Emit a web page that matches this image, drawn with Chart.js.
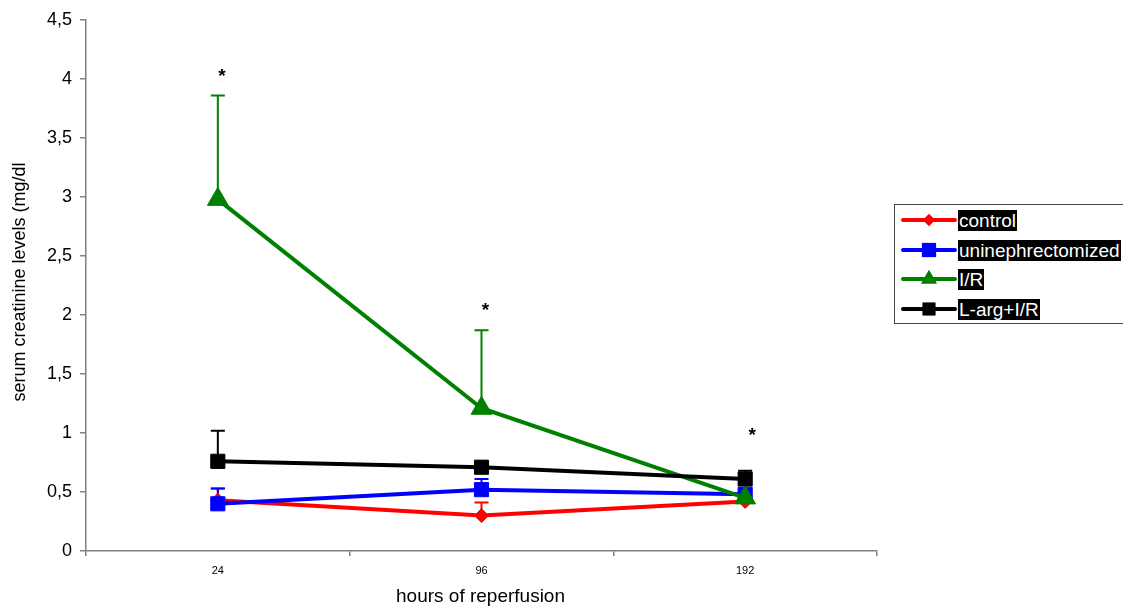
<!DOCTYPE html>
<html><head><meta charset="utf-8">
<script src="https://cdn.jsdelivr.net/npm/chart.js@4.4.0/dist/chart.umd.min.js"></script>
<style>
html,body{margin:0;padding:0;background:#fff;overflow:hidden;}
#wrap{position:relative;width:1123px;height:610px;}
#legend{position:absolute;left:894px;top:204px;width:240px;height:120px;border:1px solid #444;box-sizing:border-box;font-family:"Liberation Sans",Arial,sans-serif;font-size:19px;}
.item{position:absolute;left:4px;height:26px;display:flex;align-items:center;}
.item canvas{display:block;}
.item span{background:#000;color:#fff;padding:0 1px;line-height:21px;margin-left:0px;white-space:nowrap;}
</style></head><body>
<div id="wrap"><canvas id="c" width="1123" height="610"></canvas><div id="legend"></div></div>
<script>
const categories = ["24", "96", "192"];
const seriesNames = ["control", "uninephrectomized", "I/R", "L-arg+I/R"];
const controlVals = [0.43, 0.30, 0.42];
const controlErr = [0.10, 0.11, 0.03];
const uniVals = [0.40, 0.52, 0.48];
const uniErr = [0.13, 0.09, 0.03];
const irVals = [2.98, 1.21, 0.45];
const irErr = [0.88, 0.66, 0.02];
const largVals = [0.76, 0.71, 0.61];
const largErr = [0.26, 0.02, 0.07];
const starPos = [4.05, 2.07, 1.01];
const yTicks = [0, 0.5, 1, 1.5, 2, 2.5, 3, 3.5, 4, 4.5];
const yTitle = "serum creatinine levels (mg/dl";
const xTitle = "hours of reperfusion";

const colors = ["#ff0000", "#0000ff", "#008000", "#000000"];
const styles = ["rectRot", "rect", "triangle", "rect"];
const radii = [7, 10, 12, 10];
const legendRadii = [6, 10, 9, 9];
const vals = [controlVals, uniVals, irVals, largVals];
const errs = [controlErr, uniErr, irErr, largErr];

const datasets = seriesNames.map((n, i) => ({
  label: n, data: vals[i], borderColor: colors[i], backgroundColor: colors[i],
  borderWidth: 4, pointStyle: styles[i], pointRadius: radii[i], pointBorderWidth: 1,
  pointBackgroundColor: colors[i], pointBorderColor: colors[i], tension: 0, errs: errs[i],
  order: 3 - i
}));

const errPlugin = {
  id: 'err',
  beforeDatasetsDraw(chart) {
    const ctx = chart.ctx, x = chart.scales.x, y = chart.scales.y;
    chart.data.datasets.forEach((ds, i) => {
      ds.data.forEach((v, j) => {
        const px = x.getPixelForValue(j);
        const p0 = y.getPixelForValue(v), p1 = y.getPixelForValue(v + ds.errs[j]);
        ctx.save(); ctx.strokeStyle = ds.borderColor; ctx.lineWidth = 2;
        ctx.beginPath(); ctx.moveTo(px, p0); ctx.lineTo(px, p1);
        ctx.moveTo(px - 7, p1); ctx.lineTo(px + 7, p1); ctx.stroke(); ctx.restore();
      });
    });
  },
  afterDatasetsDraw(chart) {
    const ctx = chart.ctx, x = chart.scales.x, y = chart.scales.y;
    ctx.save(); ctx.fillStyle = '#000'; ctx.font = 'bold 19px "Liberation Sans", Arial';
    ctx.textAlign = 'center'; ctx.textBaseline = 'middle';
    starPos.forEach((v, j) => {
      ctx.fillText('*', x.getPixelForValue(j) + (j === 2 ? 7 : 4), y.getPixelForValue(v) + 4);
    });
    // axis titles
    ctx.font = '18px "Liberation Sans", Arial';
    ctx.save(); ctx.translate(20, 282); ctx.rotate(-Math.PI / 2);
    ctx.fillText(yTitle, 0, 0); ctx.restore();
    ctx.font = '19px "Liberation Sans", Arial';
    ctx.fillText(xTitle, (x.left + x.right) / 2 - 1, 597);
    ctx.restore();
  }
};

Chart.defaults.font.family = '"Liberation Sans", Arial, sans-serif';
Chart.defaults.color = '#000';
new Chart(document.getElementById('c'), {
  type: 'line',
  data: { labels: categories, datasets },
  plugins: [errPlugin],
  options: {
    responsive: false, animation: false,
    layout: { padding: { top: 20, right: 246, left: 0, bottom: 0 } },
    plugins: { legend: { display: false }, tooltip: { enabled: false } },
    scales: {
      x: {
        offset: true,
        grid: { offset: true, drawOnChartArea: false, tickLength: 5, color: '#808080', lineWidth: 1.5 },
        border: { color: '#808080', width: 1.5 },
        ticks: { font: { size: 11 }, padding: 8 },
        afterFit(s) { s.height = 59; }
      },
      y: {
        min: 0, max: 4.5,
        afterBuildTicks(s) { s.ticks = yTicks.map(v => ({ value: v })); },
        grid: { drawOnChartArea: false, tickLength: 6, color: '#808080', lineWidth: 1.5 },
        border: { color: '#808080', width: 1.5 },
        ticks: { font: { size: 18 }, padding: 8, callback: v => String(v).replace('.', ',') },
        afterFit(s) { s.width = 86; }
      }
    }
  }
});

// legend
const leg = document.getElementById('legend');
const tops = [2, 32, 61, 91];
seriesNames.forEach((n, i) => {
  const d = document.createElement('div'); d.className = 'item'; d.style.top = tops[i] + 'px';
  const c = document.createElement('canvas'); c.width = 59; c.height = 26;
  const g = c.getContext('2d'); g.strokeStyle = colors[i]; g.lineWidth = 4; g.lineCap = 'round';
  g.beginPath(); g.moveTo(4, 13); g.lineTo(56, 13); g.stroke();
  g.fillStyle = colors[i];
  Chart.helpers.drawPoint(g, { pointStyle: styles[i], radius: legendRadii[i], borderWidth: 0 }, 30, 13);
  g.fill();
  d.appendChild(c);
  const s = document.createElement('span'); s.textContent = n; d.appendChild(s);
  leg.appendChild(d);
});
</script>
</body></html>
